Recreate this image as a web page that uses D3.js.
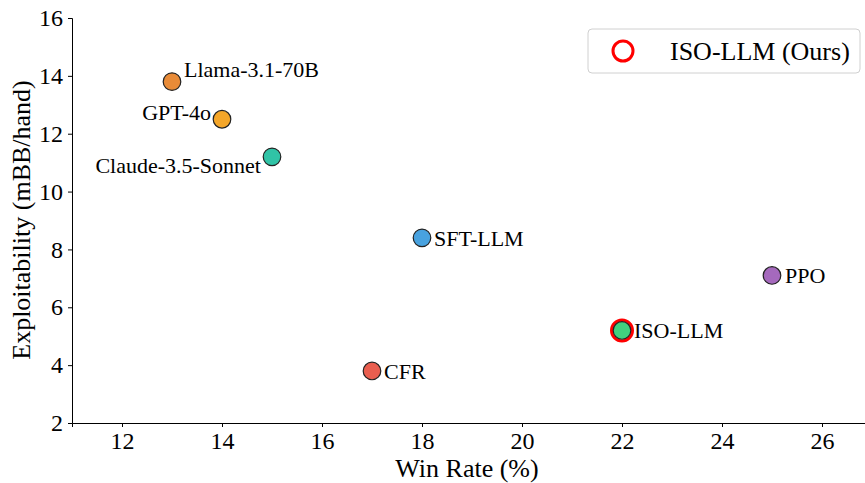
<!DOCTYPE html>
<html><head><meta charset="utf-8">
<script src="https://cdn.jsdelivr.net/npm/d3@7"></script>
<style>body{margin:0;background:#fff}svg{display:block}text{font-family:"Liberation Serif","Times New Roman",serif;fill:#000}</style>
</head><body>
<svg id="chart" width="865" height="483"></svg>
<script>
const names = ["Llama-3.1-70B","GPT-4o","Claude-3.5-Sonnet","SFT-LLM","PPO","ISO-LLM","CFR"];
const winRate = [13,14,15,18,25,22,17];
const exploit = [13.8,12.5,11.2,8.4,7.1,5.2,3.8];
const colors = ["#e67e22","#f39c12","#1abc9c","#3498db","#9b59b6","#2ecc71","#e74c3c"];
const xTicks = [12,14,16,18,20,22,24,26];
const yTicks = [2,4,6,8,10,12,14,16];
const highlight = "ISO-LLM";
const legendLabel = "ISO-LLM (Ours)";

const svg = d3.select("#chart");
const x = d3.scaleLinear().domain([11,26.86]).range([72,865]);
const y = d3.scaleLinear().domain([2,16]).range([423,18]);

const gx = svg.append("g").attr("transform","translate(0,423)")
  .call(d3.axisBottom(x).tickValues(xTicks).tickSize(4).tickPadding(5));
const gy = svg.append("g").attr("transform","translate(72,0)")
  .call(d3.axisLeft(y).tickValues(yTicks).tickSize(4).tickPadding(5));
[gx,gy].forEach(g=>{
  g.attr("font-family",null).attr("font-size",null);
  g.selectAll("text").style("font-size","24px").style("font-family","'Liberation Serif',serif");
  g.selectAll("line,path").attr("stroke","#000").attr("stroke-width",1);
});

svg.append("text").attr("x",467).attr("y",477).attr("text-anchor","middle")
  .style("font-size","26px").text("Win Rate (%)");
svg.append("text").attr("transform","translate(30,220) rotate(-90)").attr("text-anchor","middle")
  .style("font-size","26px").text("Exploitability (mBB/hand)");

const data = names.map((n,i)=>({n,x:winRate[i],y:exploit[i],c:colors[i]}));

data.filter(d=>d.n===highlight).forEach(d=>{
  svg.append("circle").attr("cx",x(d.x)).attr("cy",y(d.y)).attr("r",10.5)
    .attr("fill","none").attr("stroke","#ff0000").attr("stroke-width",3);
});
svg.selectAll("circle.pt").data(data).join("circle").attr("class","pt")
  .attr("cx",d=>x(d.x)).attr("cy",d=>y(d.y)).attr("r",8.8)
  .attr("fill",d=>d.c).attr("fill-opacity",0.9).attr("stroke","#222").attr("stroke-width",1.2);

const offs = {
  "Llama-3.1-70B":[12,-12,"start"],
  "GPT-4o":[-11,-7,"end"],
  "Claude-3.5-Sonnet":[-11,8,"end"],
  "SFT-LLM":[12,0,"start"],
  "PPO":[13,0,"start"],
  "ISO-LLM":[12,0,"start"],
  "CFR":[12,0,"start"]
};
svg.selectAll("text.lbl").data(data).join("text").attr("class","lbl")
  .attr("x",d=>x(d.x)+offs[d.n][0]).attr("y",d=>y(d.y)+offs[d.n][1])
  .attr("dy","0.35em").attr("text-anchor",d=>offs[d.n][2])
  .style("font-size","22px").text(d=>d.n);

const lg = svg.append("g");
lg.append("rect").attr("x",588).attr("y",29).attr("width",272).attr("height",44).attr("rx",4)
  .attr("fill","#fff").attr("stroke","#d0d0d0").attr("stroke-width",1);
lg.append("circle").attr("cx",623).attr("cy",51).attr("r",10).attr("fill","none")
  .attr("stroke","#ff0000").attr("stroke-width",3);
lg.append("text").attr("x",670).attr("y",51).attr("dy","0.35em").style("font-size","26px").text(legendLabel);
</script>
</body></html>
